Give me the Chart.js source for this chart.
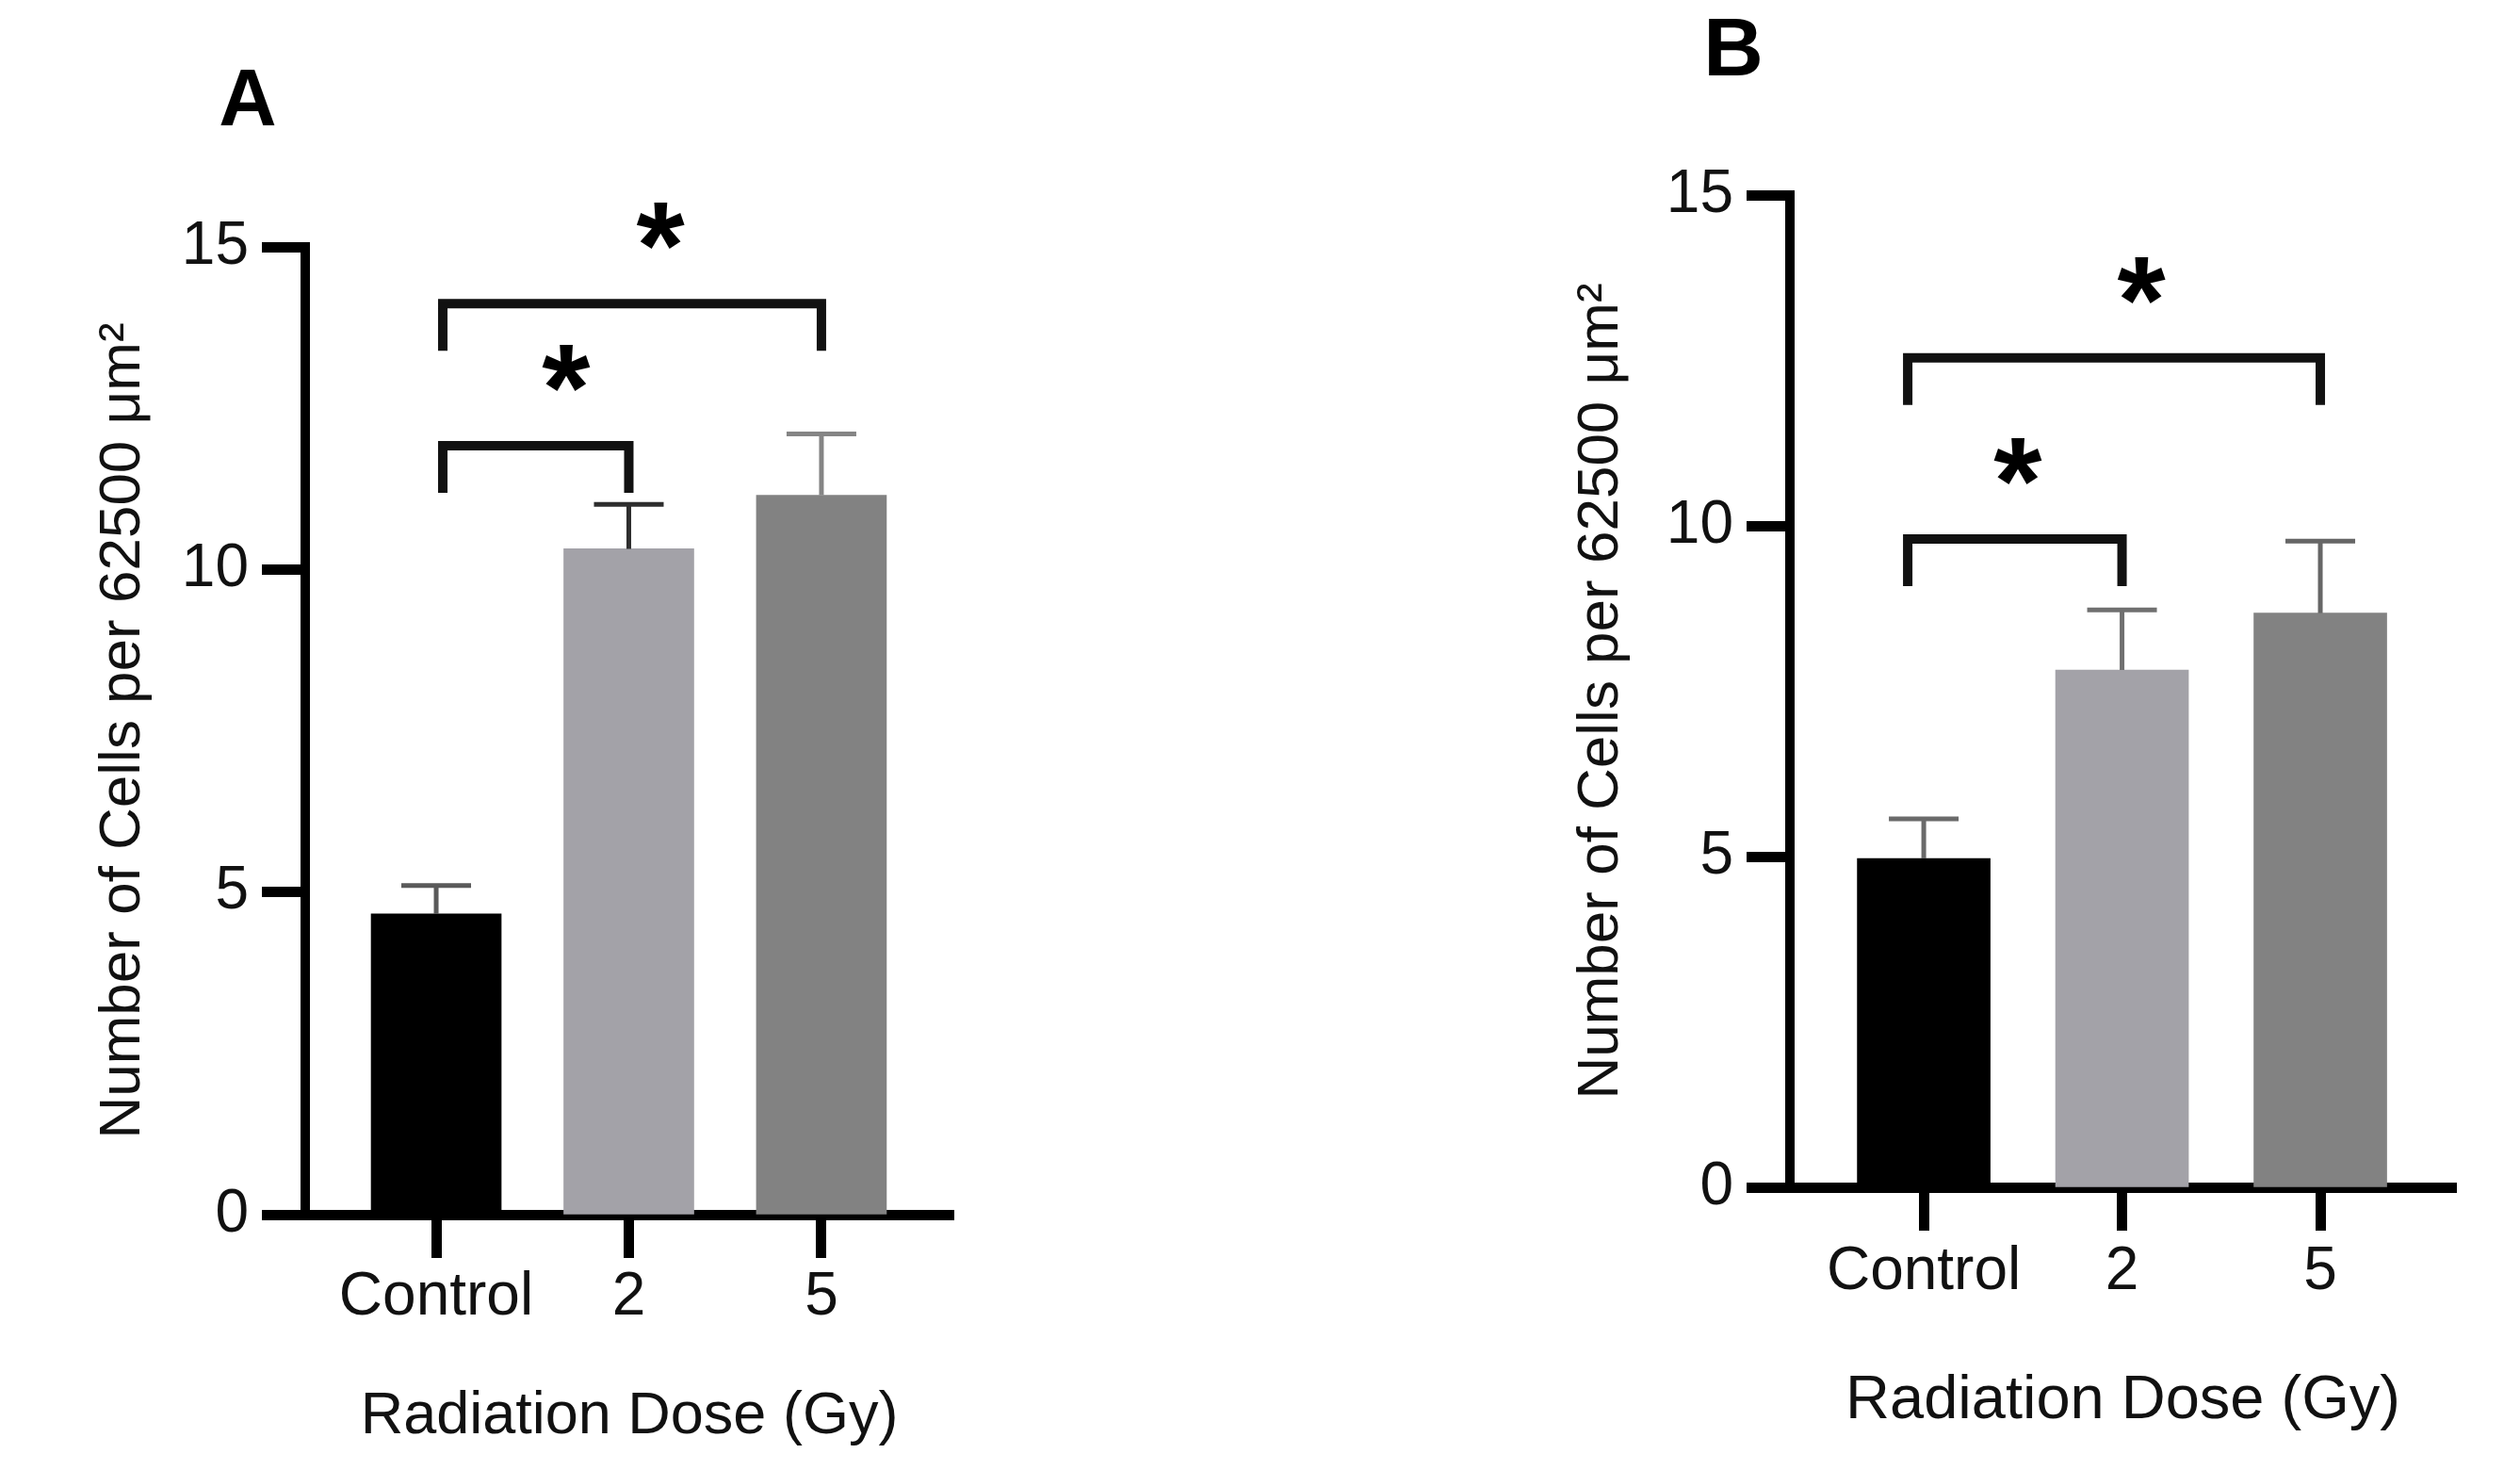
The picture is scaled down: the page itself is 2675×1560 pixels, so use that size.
<!DOCTYPE html>
<html><head><meta charset="utf-8">
<script src="https://cdn.jsdelivr.net/npm/chart.js@4.4.1/dist/chart.umd.min.js"></script>
<style>
html,body{margin:0;padding:0;background:#fff;width:2675px;height:1560px;overflow:hidden}
canvas{position:absolute;top:0}
#cA{left:0}
#cB{left:1337px}
</style></head><body>
<canvas id="cA" width="1337" height="1560"></canvas>
<canvas id="cB" width="1338" height="1560"></canvas>
<script>
// ---------- data ----------
const categories = ['Control', '2', '5'];
const valuesA = [4.66, 10.32, 11.15];
const semA    = [0.44, 0.69, 0.95];
const valuesB = [4.97, 7.82, 8.68];
const semB    = [0.60, 0.91, 1.09];
const yTickValues = [0, 5, 10, 15];
const sigPairsA  = [[0, 1], [0, 2]];
const sigLevelsA = [11.92, 14.12];
const sigPairsB  = [[0, 1], [0, 2]];
const sigLevelsB = [9.80, 12.54];
const sigMark = '*';
const panelLabels = ['A', 'B'];
const xTitleText = 'Radiation Dose (Gy)';
const yTitleText = 'Number of Cells per 62500 μm²';

// ---------- styles ----------
const FONT = "'Liberation Sans', Arial, Helvetica, sans-serif";
const barColors = ['#000000', '#a3a2a8', '#828282'];
Chart.defaults.font.family = FONT;
Chart.defaults.color = '#111';

const annot = {
  id: 'annot',
  afterDatasetsDraw(chart, args, o) {
    const ctx = chart.ctx, ys = chart.scales.y;
    const meta = chart.getDatasetMeta(0);
    ctx.save();
    ctx.lineCap = 'butt';
    meta.data.forEach((el, i) => {
      const yt = ys.getPixelForValue(o.values[i] + o.sem[i]);
      ctx.strokeStyle = o.errColors[i];
      ctx.lineWidth = o.errWidth;
      ctx.beginPath();
      ctx.moveTo(el.x, el.y);
      ctx.lineTo(el.x, yt);
      ctx.moveTo(el.x - o.capHalf, yt);
      ctx.lineTo(el.x + o.capHalf, yt);
      ctx.stroke();
    });
    ctx.restore();
  },
  afterDraw(chart, args, o) {
    const ctx = chart.ctx, xs = chart.scales.x, ys = chart.scales.y;
    ctx.save();
    ctx.strokeStyle = '#111';
    ctx.lineWidth = o.bracketWidth;
    ctx.lineJoin = 'miter';
    ctx.lineCap = 'butt';
    o.pairs.forEach((p, k) => {
      const xl = xs.getPixelForValue(p[0]) + o.leftDx;
      const xr = xs.getPixelForValue(p[1]);
      const y = ys.getPixelForValue(o.levels[k]);
      ctx.beginPath();
      ctx.moveTo(xl, y + o.legDrop);
      ctx.lineTo(xl, y);
      ctx.lineTo(xr, y);
      ctx.lineTo(xr, y + o.legDrop);
      ctx.stroke();
      ctx.font = 'bold 100px ' + FONT;
      const m0 = ctx.measureText(sigMark);
      const h0 = m0.actualBoundingBoxAscent + m0.actualBoundingBoxDescent;
      const fs = 100 * o.starSize / h0;
      ctx.font = 'bold ' + fs + 'px ' + FONT;
      const m = ctx.measureText(sigMark);
      ctx.fillStyle = '#000';
      ctx.textAlign = 'center';
      ctx.textBaseline = 'alphabetic';
      const cx = (xl + xr) / 2 + o.starDx[k];
      const cy = y - o.starGap;
      ctx.fillText(sigMark, cx, cy + (m.actualBoundingBoxAscent - m.actualBoundingBoxDescent) / 2);
    });
    ctx.fillStyle = '#000';
    ctx.font = 'bold ' + o.letterSize + 'px ' + FONT;
    ctx.textAlign = 'center';
    ctx.textBaseline = 'alphabetic';
    const ml = ctx.measureText(o.letter);
    ctx.fillText(o.letter, o.letterX, o.letterY + (ml.actualBoundingBoxAscent - ml.actualBoundingBoxDescent) / 2);
    ctx.restore();
  }
};

function makeChart(id, values, sem, pairs, levels, L) {
  return new Chart(document.getElementById(id), {
    type: 'bar',
    data: {
      datasets: [{
        data: categories.map((c, i) => ({ x: i, y: values[i] })),
        backgroundColor: barColors,
        borderWidth: 0,
        barThickness: L.barW
      }]
    },
    plugins: [annot],
    options: {
      responsive: false,
      devicePixelRatio: 1,
      animation: false,
      layout: { padding: { left: 0, top: L.top, right: L.right, bottom: 0 } },
      plugins: {
        legend: { display: false },
        tooltip: { enabled: false },
        annot: {
          values: values, sem: sem, pairs: pairs, levels: levels,
          errColors: L.errColors, errWidth: 5, capHalf: 37,
          bracketWidth: 10, legDrop: 50, leftDx: L.leftDx,
          starDx: L.starDx, starGap: 82, starSize: 50,
          letter: L.letter, letterX: L.letterX, letterY: L.letterY, letterSize: L.letterSize
        }
      },
      scales: {
        x: {
          type: 'linear',
          min: L.xmin, max: L.xmax,
          offset: false,
          afterBuildTicks: s => { s.ticks = categories.map((c, i) => ({ value: i })); },
          afterFit: s => { s.height = L.xh; },
          ticks: {
            callback: v => categories[v] ?? '',
            font: { size: 64 }, color: '#111', padding: L.xpad, maxRotation: 0, autoSkip: false
          },
          grid: { offset: false, drawOnChartArea: false, tickLength: 46, tickWidth: 11, tickColor: '#000' },
          border: { display: true, width: 11, color: '#000' },
          title: { display: true, text: xTitleText, font: { size: L.xtSize }, color: '#111',
                   padding: { top: 0, bottom: L.xtPad } }
        },
        y: {
          min: 0, max: 15,
          afterBuildTicks: s => { s.ticks = yTickValues.map(v => ({ value: v })); },
          afterFit: s => { s.width = L.yw; },
          ticks: { font: { size: 64 }, color: '#111', padding: 14 },
          grid: { drawOnChartArea: false, tickLength: 46, tickWidth: 11, tickColor: '#000' },
          border: { display: true, width: 10, color: '#000' },
          title: { display: true, text: yTitleText, font: { size: 62 }, color: '#111',
                   padding: { top: L.ytPad, bottom: 0 } }
        }
      }
    }
  });
}

makeChart('cA', valuesA, semA, sigPairsA, sigLevelsA, {
  top: 262, right: 325, yw: 324, xh: 271, xmin: -0.68, xmax: 2.685, barW: 138,
  xpad: 4, xtSize: 63, xtPad: 19, ytPad: 94,
  errColors: ['#5a5a5a', '#2e2e2e', '#858585'], leftDx: 7, starDx: [32, 30],
  letter: panelLabels[0], letterX: 263, letterY: 103, letterSize: 85
});
makeChart('cB', valuesB, semB, sigPairsB, sigLevelsB, {
  top: 207, right: 68, yw: 563, xh: 300, xmin: -0.675, xmax: 2.684, barW: 141,
  xpad: 6, xtSize: 65, xtPad: 34, ytPad: 326,
  errColors: ['#6a6a6a', '#707070', '#666666'], leftDx: -17, starDx: [3, 29],
  letter: panelLabels[1], letterX: 503, letterY: 50, letterSize: 88
});
</script>
</body></html>
